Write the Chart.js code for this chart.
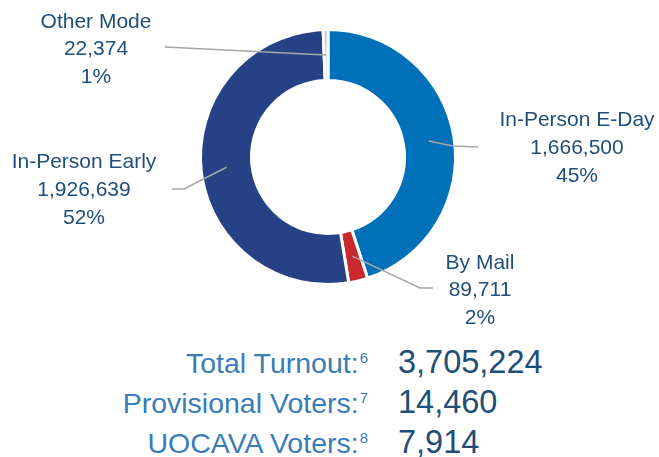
<!DOCTYPE html>
<html>
<head>
<meta charset="utf-8">
<script src="https://cdn.jsdelivr.net/npm/chart.js@4.4.1/dist/chart.umd.min.js"></script>
<style>
  html, body { margin: 0; padding: 0; background: #fff; }
  #wrap { position: relative; width: 659px; height: 457px; overflow: hidden; font-family: "Liberation Sans", Arial, sans-serif; }
  #chart-box { position: absolute; left: 0; top: 0; width: 659px; height: 340px; }
  .row { position: absolute; left: 0; width: 659px; display: flex; align-items: baseline; }
  .lbl { width: 368px; text-align: right; color: #3a7cb8; font-size: 28.5px; line-height: 28px; }
  .lbl sup { font-size: 15px; vertical-align: 10px; line-height: 0; margin-left: 1px; }
  .val { margin-left: 30px; color: #1f4e79; font-size: 32.5px; line-height: 31px; }
</style>
</head>
<body>
<div id="wrap">
  <div id="chart-box"><canvas id="turnout-donut"></canvas></div>
  <div id="stats"></div>
</div>
<script>
// Vote mode breakdown
const modes = ['In-Person E-Day', 'By Mail', 'In-Person Early', 'Other Mode'];
const voters = [1666500, 89711, 1926639, 22374];
const shares = ['45%', '2%', '52%', '1%'];
const modeColors = ['#0070b9', '#c8282e', '#264186', '#a9cbe9'];

// Summary rows under the chart
const statLabels = ['Total Turnout:', 'Provisional Voters:', 'UOCAVA Voters:'];
const statNotes = ['6', '7', '8'];
const statValues = [3705224, 14460, 7914];

const fmt = (n) => n.toLocaleString('en-US');

// Where each callout goes: elbow of the leader, its end, text centre and line centres
const callouts = [
  { elbow: [453, 146], end: [478, 147], x: 577, lines: [120, 148, 176] },
  { elbow: [420, 288], end: [433, 288], x: 480, lines: [263, 290, 318] },
  { elbow: [184, 189], end: [172, 189], x: 84, lines: [162, 190, 218] },
  { elbow: null, end: [165, 47], x: 96, lines: [22, 49, 77] },
];

const calloutPlugin = {
  id: 'callouts',
  afterDatasetsDraw(c) {
    const { ctx } = c;
    const arcs = c.getDatasetMeta(0).data;
    ctx.save();
    arcs.forEach((arc, i) => {
      const cfg = callouts[i];
      const start = arc.tooltipPosition();
      // Leader line
      ctx.beginPath();
      ctx.strokeStyle = '#a6a6a6';
      ctx.lineWidth = 1.5;
      ctx.moveTo(start.x, start.y);
      if (cfg.elbow) ctx.lineTo(cfg.elbow[0], cfg.elbow[1]);
      ctx.lineTo(cfg.end[0], cfg.end[1]);
      ctx.stroke();
      // Text
      ctx.fillStyle = '#1f4e79';
      ctx.font = '21px "Liberation Sans", Arial, sans-serif';
      ctx.textAlign = 'center';
      ctx.textBaseline = 'middle';
      const texts = [modes[i], fmt(voters[i]), shares[i]];
      texts.forEach((t, k) => ctx.fillText(t, cfg.x, cfg.lines[k]));
    });
    ctx.restore();
  },
};

// eslint-disable-next-line no-unused-vars
const chart = new Chart(document.getElementById('turnout-donut'), {
  type: 'doughnut',
  data: {
    labels: modes,
    datasets: [{
      data: voters,
      backgroundColor: modeColors,
      borderColor: '#ffffff',
      borderWidth: 3,
      hoverOffset: 0,
    }],
  },
  options: {
    responsive: true,
    maintainAspectRatio: false,
    animation: false,
    cutout: '60%',
    layout: {
      padding: { left: 199, right: 202, top: 28, bottom: 54 },
    },
    plugins: {
      legend: { display: false },
      tooltip: { enabled: false },
    },
  },
  plugins: [calloutPlugin],
});

// Summary rows
const stats = document.getElementById('stats');
const rowTops = [347, 387, 427];
statLabels.forEach((label, i) => {
  const row = document.createElement('div');
  row.className = 'row';
  row.style.top = `${rowTops[i]}px`;
  const l = document.createElement('span');
  l.className = 'lbl';
  l.textContent = label;
  const sup = document.createElement('sup');
  sup.textContent = statNotes[i];
  l.appendChild(sup);
  const v = document.createElement('span');
  v.className = 'val';
  v.textContent = fmt(statValues[i]);
  row.appendChild(l);
  row.appendChild(v);
  stats.appendChild(row);
});
</script>
</body>
</html>
